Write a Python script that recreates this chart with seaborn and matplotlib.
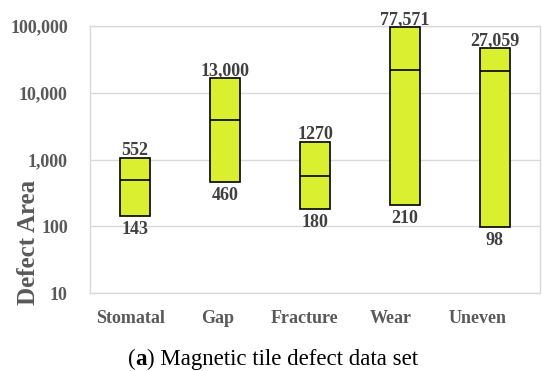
import matplotlib
matplotlib.use("Agg")
import matplotlib.pyplot as plt
import matplotlib.transforms as mtransforms
import seaborn as sns
import numpy as np
import pandas as pd
from matplotlib.ticker import FixedLocator, FuncFormatter

categories = ["Stomatal", "Gap", "Fracture", "Wear", "Uneven"]
box_low = [143, 460, 180, 210, 98]
box_high = [1047, 16800, 1815, 96600, 47300]
box_mid = [497, 3940, 569, 21900, 21400]
top_labels = ["552", "13,000", "1270", "77,571", "27,059"]
bottom_labels = ["143", "460", "180", "210", "98"]
y_ticks = [10, 100, 1000, 10000, 100000]

sns.set_theme(style="white")
plt.rcParams["font.family"] = ["Liberation Serif", "DejaVu Serif"]

df = pd.DataFrame({
    "category": categories,
    "height": np.array(box_high) - np.array(box_low),
    "low": box_low,
})

fig = plt.figure(figsize=(5.42, 3.71), dpi=100)
ax = fig.add_axes([90 / 542, 1 - 293 / 371, 450 / 542, 267 / 371])

bar_w = 0.33
sns.barplot(data=df, x="category", y="height", bottom=df["low"].values,
            color="#d9ef2f", saturation=1, width=bar_w, errorbar=None,
            edgecolor="black", linewidth=1.2, ax=ax, zorder=3)

ax.set_yscale("log")
ax.set_ylim(10, 100000)
ax.set_xlim(-0.5, len(categories) - 0.5)

xs = np.arange(len(categories))
ax.hlines(box_mid, xs - bar_w / 2, xs + bar_w / 2, colors="black",
          linewidth=1.2, zorder=4)

label_color = "#404040"
for i in range(len(categories)):
    ax.annotate(top_labels[i], (xs[i], box_high[i]), xytext=(0, 2),
                textcoords="offset points", ha="center", va="baseline",
                fontsize=13, fontweight="bold", color=label_color, zorder=5)
    ax.annotate(bottom_labels[i], (xs[i], box_low[i]), xytext=(0, -3.5),
                textcoords="offset points", ha="center", va="top",
                fontsize=13, fontweight="bold", color=label_color, zorder=5)

ax.yaxis.set_major_locator(FixedLocator(y_ticks))
ax.yaxis.set_minor_locator(FixedLocator([]))
ax.yaxis.set_major_formatter(FuncFormatter(lambda v, p: f"{int(round(v)):,}"))
ax.grid(axis="y", color="#d9d9d9", linewidth=1.0, zorder=0)
ax.set_axisbelow(True)
for s in ax.spines.values():
    s.set_visible(True)
    s.set_color("#d9d9d9")
    s.set_linewidth(1.0)

ax.tick_params(axis="both", length=0, colors="#595959")
ax.tick_params(axis="y", pad=16)
ax.tick_params(axis="x", pad=12)
for lab in ax.get_yticklabels():
    lab.set_fontsize(13)
    lab.set_fontweight("bold")
for i, lab in enumerate(ax.get_xticklabels()):
    lab.set_fontsize(13)
    lab.set_fontweight("bold")
    shift = -(4.5 + 3.25 * i) / 100.0
    lab.set_transform(lab.get_transform() +
                      mtransforms.ScaledTranslation(shift, 0, fig.dpi_scale_trans))

ax.set_xlabel("")
ax.set_ylabel("Defect Area", fontsize=18, fontweight="bold", color="#595959")
ax.yaxis.label.set_va("center")
ax.yaxis.set_label_coords(-0.137, 0.19)

# caption
t1 = fig.text(128 / 542, 1 - 365 / 371, "(", fontsize=16.5, color="black",
              ha="left", va="baseline")
t2 = ax.annotate("a", xy=(1, 0), xycoords=t1, va="bottom", ha="left",
                 fontsize=16.5, fontweight="bold", color="black")
t3 = ax.annotate(") Magnetic tile defect data set", xy=(1, 0), xycoords=t2,
                 va="bottom", ha="left", fontsize=16.5, color="black")

fig.savefig("out.png", dpi=100)
